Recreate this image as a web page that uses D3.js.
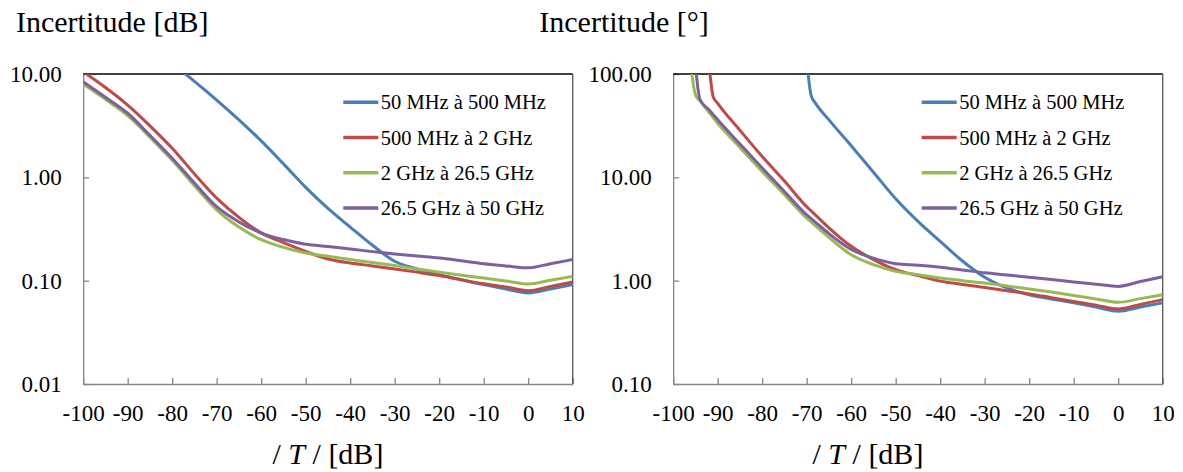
<!DOCTYPE html>
<html>
<head>
<meta charset="utf-8">
<script src="https://cdn.jsdelivr.net/npm/d3@7"></script>
<style>
  html, body { margin: 0; padding: 0; background: #fff; }
  svg { display: block; }
  text { font-family: "Liberation Serif", "Times New Roman", Tinos, serif; fill: #000; }
</style>
</head>
<body>
<svg id="chart" width="1183" height="472"></svg>
<script>
// ---------- data ----------
const seriesNames = ["50 MHz à 500 MHz", "500 MHz à 2 GHz", "2 GHz à 26.5 GHz", "26.5 GHz à 50 GHz"];
const seriesColors = ["#4A7EBB", "#BE4B48", "#98B954", "#7D60A0"];

const xTicks = [-100, -90, -80, -70, -60, -50, -40, -30, -20, -10, 0, 10];
const ampTicks = [0.01, 0.1, 1, 10];
const phaseTicks = [0.1, 1, 10, 100];

// Amplitude uncertainty [dB]
const xAmp = [-100, -95, -90, -85, -80, -75, -70, -65, -60, -55, -50, -45, -40, -35, -30, -25, -20, -15, -10, -5, 0, 5, 10];
const ampBlue   = [null, null, null, null, 12.6, 8.5, 5.6, 3.6, 2.25, 1.35, 0.80, 0.50, 0.33, 0.22, 0.154, 0.13, 0.114, 0.102, 0.0915, 0.083, 0.076, 0.083, 0.0915];
const ampRed    = [10.5, 7.4, 5.0, 3.15, 1.91, 1.08, 0.63, 0.41, 0.29, 0.233, 0.192, 0.162, 0.148, 0.139, 0.130, 0.121, 0.112, 0.102, 0.0935, 0.087, 0.080, 0.088, 0.097];
const ampGreen  = [8.0, 5.7, 3.95, 2.45, 1.46, 0.83, 0.485, 0.33, 0.249, 0.21, 0.185, 0.172, 0.160, 0.150, 0.140, 0.130, 0.121, 0.113, 0.106, 0.0995, 0.093, 0.101, 0.110];
const ampPurple = [8.4, 5.95, 4.17, 2.55, 1.53, 0.88, 0.52, 0.37, 0.289, 0.25, 0.225, 0.214, 0.202, 0.191, 0.181, 0.173, 0.166, 0.156, 0.146, 0.139, 0.133, 0.146, 0.160];

// Phase uncertainty [°]
const xPhase = [-96, -95, -94, -92, -91, -90, -85, -80, -75, -70, -69, -68, -65, -60, -55, -50, -45, -40, -35, -30, -25, -20, -15, -10, -5, 0, 5, 10];
const phBlue   = [null, null, null, null, null, null, null, null, null, 138, 61.7, 52, 36, 20.2, 11.2, 6.2, 3.75, 2.4, 1.55, 1.08, 0.85, 0.73, 0.665, 0.61, 0.555, 0.506, 0.555, 0.61];
const phRed    = [null, null, null, 130, 60, 52, 28.5, 15.9, 9.2, 5.2, 4.73, 4.31, 3.25, 2.15, 1.6, 1.28, 1.12, 0.99, 0.92, 0.86, 0.80, 0.745, 0.685, 0.63, 0.58, 0.532, 0.59, 0.655];
const phGreen  = [115, 63, 55, 42.9, 37.8, 33.4, 19.5, 11.4, 6.8, 4.03, 3.7, 3.39, 2.62, 1.78, 1.43, 1.23, 1.14, 1.06, 1.0, 0.95, 0.89, 0.83, 0.775, 0.72, 0.665, 0.617, 0.67, 0.73];
const phPurple = [null, 120, 57, 45.3, 40.4, 36, 21, 12.3, 7.3, 4.34, 3.99, 3.67, 2.85, 2.0, 1.65, 1.46, 1.41, 1.35, 1.27, 1.19, 1.135, 1.08, 1.025, 0.97, 0.925, 0.88, 0.98, 1.09];

// ---------- drawing ----------
const svg = d3.select("#chart");
const FONT_TICK = 23, FONT_TITLE = 30, FONT_LEG = 20.5;
const SERIF = '"Liberation Serif", "Times New Roman", Tinos, serif';
const yTop = 74, yBot = 384;

function drawChart(cfg, idx) {
  const x = d3.scaleLinear().domain([-100, 10]).range([cfg.x0, cfg.x1]);
  const y = d3.scaleLog().domain(cfg.yDomain).range([yBot, yTop]);
  const g = svg.append("g");

  // clip
  const clipId = "clip" + idx;
  svg.append("defs").append("clipPath").attr("id", clipId)
    .append("rect").attr("x", cfg.x0).attr("y", yTop)
    .attr("width", cfg.x1 - cfg.x0).attr("height", yBot - yTop);

  // y axis
  const ya = g.append("g").attr("transform", `translate(${cfg.x0},0)`)
    .call(d3.axisLeft(y).tickValues(cfg.yTicks).tickFormat(d => d.toFixed(2))
      .tickSizeInner(-6).tickSizeOuter(0).tickPadding(21.5));
  ya.attr("font-family", SERIF);
  ya.selectAll("path, line").attr("stroke", "#868686").attr("stroke-width", 1.3);
  ya.selectAll("text").attr("font-size", FONT_TICK);

  // x axis
  const xa = g.append("g").attr("transform", `translate(0,${yBot})`)
    .call(d3.axisBottom(x).tickValues(xTicks).tickFormat(d => String(d))
      .tickSizeInner(-6).tickSizeOuter(0).tickPadding(21));
  xa.attr("font-family", SERIF);
  xa.selectAll("path, line").attr("stroke", "#868686").attr("stroke-width", 1.3);
  xa.selectAll("text").attr("font-size", FONT_TICK);

  // top & right borders
  g.append("line").attr("x1", cfg.x0).attr("x2", cfg.x1).attr("y1", yTop).attr("y2", yTop)
    .attr("stroke", "#000").attr("stroke-width", 1.3);
  g.append("line").attr("x1", cfg.x1).attr("x2", cfg.x1).attr("y1", yTop).attr("y2", yBot)
    .attr("stroke", "#555").attr("stroke-width", 1.3);

  // lines
  const line = d3.line()
    .defined(d => d[1] != null)
    .x(d => x(d[0])).y(d => y(d[1]))
    .curve(d3.curveMonotoneX);
  const lg = g.append("g").attr("clip-path", `url(#${clipId})`);
  cfg.series.forEach((vals, i) => {
    const pts = cfg.xs.map((xv, j) => [xv, vals[j]]);
    lg.append("path").datum(pts)
      .attr("d", line)
      .attr("fill", "none")
      .attr("stroke", seriesColors[i])
      .attr("stroke-width", 3)
      .attr("stroke-linejoin", "round");
  });

  // legend
  const leg = g.append("g");
  seriesNames.forEach((name, i) => {
    const ly = 102.3 + i * 35.2;
    leg.append("line").attr("x1", cfg.legX).attr("x2", cfg.legX + 35)
      .attr("y1", ly).attr("y2", ly)
      .attr("stroke", seriesColors[i]).attr("stroke-width", 3.5);
    leg.append("text").attr("x", cfg.legX + 37.5).attr("y", ly + 7)
      .attr("font-size", FONT_LEG).text(name);
  });

  // y title
  g.append("text").attr("x", cfg.titleX).attr("y", 32)
    .attr("font-size", FONT_TITLE).text(cfg.yTitle);

  // x title
  const xt = g.append("text").attr("x", (cfg.x0 + cfg.x1) / 2 + cfg.xTitleShift).attr("y", 464)
    .attr("text-anchor", "middle").attr("font-size", FONT_TITLE);
  xt.append("tspan").text("/ ");
  xt.append("tspan").attr("font-style", "italic").text("T");
  xt.append("tspan").text(" / [dB]");
}

drawChart({
  x0: 83.2, x1: 572.7, yDomain: [0.01, 10], yTicks: ampTicks,
  xs: xAmp, series: [ampBlue, ampRed, ampGreen, ampPurple],
  legX: 343.3, titleX: 16, yTitle: "Incertitude [dB]", xTitleShift: 0
}, 0);

drawChart({
  x0: 673.2, x1: 1162.7, yDomain: [0.1, 100], yTicks: phaseTicks,
  xs: xPhase, series: [phBlue, phRed, phGreen, phPurple],
  legX: 921.7, titleX: 539.3, yTitle: "Incertitude [°]", xTitleShift: -50
}, 1);
</script>
</body>
</html>
